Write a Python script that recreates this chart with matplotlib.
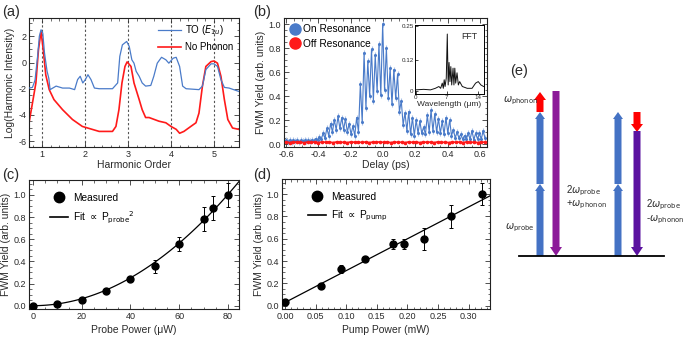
import numpy as np
import matplotlib
matplotlib.use('Agg')
import matplotlib.pyplot as plt
from matplotlib.lines import Line2D
from matplotlib.ticker import MultipleLocator, FormatStrFormatter, FixedLocator

plt.rcParams['font.family'] = ['Liberation Sans', 'DejaVu Sans']
plt.rcParams['mathtext.fontset'] = 'dejavusans'
plt.rcParams['axes.unicode_minus'] = False

# (a) harmonic spectra
to_order = [0.70, 0.78, 0.84, 0.90, 0.94, 0.98, 1.02, 1.06, 1.12, 1.16, 1.19, 1.33,
            1.48, 1.64, 1.76, 1.83, 1.89, 1.95, 2.01, 2.07, 2.14, 2.22, 2.33, 2.64,
            2.76, 2.81, 2.87, 2.97, 3.03, 3.09, 3.14, 3.19, 3.26, 3.33, 3.41, 3.53,
            3.60, 3.68, 3.78, 3.88, 3.95, 4.05, 4.12, 4.20, 4.27, 4.35, 4.65, 4.73,
            4.81, 4.93, 5.00, 5.08, 5.16, 5.24, 5.35, 5.57]
to_log = [-1.95, -1.90, -1.35, 0.47, 2.00, 2.50, 2.25, 0.73, -0.67, -1.20, -2.07, -1.80,
          -1.95, -1.95, -2.07, -1.30, -1.05, -1.56, -1.30, -0.93, -1.30, -1.95, -2.00, -2.00,
          -1.56, 0.47, 1.35, 1.61, 1.22, 0.21, -0.05, -0.67, -1.05, -1.56, -1.80, -1.75,
          -1.05, -0.05, 0.40, 0.21, -0.05, 0.33, 0.40, -0.30, -1.80, -2.00, -2.07, -1.80,
          -0.54, -0.10, -0.10, -0.30, -1.30, -1.90, -1.95, -2.20]
nophonon_order = [0.70, 0.78, 0.86, 0.92, 0.98, 1.03, 1.09, 1.17, 1.28, 1.48, 1.71, 1.94,
                  2.33, 2.64, 2.72, 2.79, 2.86, 2.93, 2.98, 3.07, 3.14, 3.26, 3.33, 3.41,
                  3.49, 3.72, 3.88, 4.00, 4.12, 4.20, 4.30, 4.46, 4.58, 4.65, 4.73, 4.81,
                  4.93, 5.00, 5.08, 5.16, 5.24, 5.32, 5.43, 5.57]
nophonon_log = [-4.62, -3.10, -1.56, 0.98, 2.38, 1.00, -0.95, -2.07, -2.83, -3.60, -4.35, -4.88,
                -5.26, -5.26, -4.88, -3.60, -1.56, -0.30, 0.05, -0.30, -1.56, -2.83, -3.60, -4.20,
                -4.20, -4.48, -4.60, -4.88, -5.10, -5.40, -5.26, -4.88, -4.60, -3.86, -1.80, -0.30,
                0.07, 0.12, -0.05, -1.05, -2.83, -4.35, -5.00, -5.10]
harmonics = [1, 2, 3, 4, 5]

# (b) FWM yield vs delay
delay = np.linspace(-0.6, 0.6305, 108)
on_res = [0.030, 0.020, 0.032, 0.020, 0.030, 0.022, 0.032, 0.020, 0.030, 0.022,
          0.030, 0.022, 0.032, 0.024, 0.035, 0.028, 0.045, 0.032, 0.060, 0.040,
          0.090, 0.050, 0.130, 0.070, 0.170, 0.100, 0.200, 0.120, 0.230, 0.130,
          0.220, 0.120, 0.210, 0.100, 0.170, 0.080, 0.150, 0.070, 0.220, 0.100,
          0.500, 0.180, 0.760, 0.300, 0.690, 0.400, 0.790, 0.360, 0.740, 0.440,
          0.830, 0.410, 1.000, 0.450, 0.800, 0.380, 0.630, 0.330, 0.620, 0.380,
          0.580, 0.270, 0.360, 0.160, 0.260, 0.110, 0.270, 0.080, 0.220, 0.070,
          0.200, 0.090, 0.190, 0.090, 0.140, 0.080, 0.240, 0.100, 0.280, 0.110,
          0.250, 0.100, 0.210, 0.090, 0.190, 0.080, 0.220, 0.090, 0.200, 0.070,
          0.120, 0.050, 0.100, 0.050, 0.080, 0.040, 0.070, 0.040, 0.090, 0.040,
          0.110, 0.035, 0.090, 0.040, 0.090, 0.040, 0.110, 0.050]
on_err = 0.025
off_delay = np.linspace(-0.6, 0.63, 56)
off_res = [0.016, 0.012, 0.018, 0.014, 0.015, 0.011, 0.017, 0.013, 0.016, 0.012,
           0.018, 0.014, 0.016, 0.012, 0.017, 0.013, 0.015, 0.012, 0.018, 0.014,
           0.016, 0.013, 0.017, 0.012, 0.016, 0.014, 0.018, 0.013, 0.016, 0.012,
           0.017, 0.014, 0.015, 0.012, 0.018, 0.013, 0.016, 0.012, 0.017, 0.014,
           0.016, 0.012, 0.018, 0.013, 0.015, 0.012, 0.017, 0.014, 0.016, 0.012,
           0.018, 0.013, 0.016, 0.012, 0.017, 0.014]
fft_wl = [0.0, 1.76, 3.3, 4.4, 5.2, 5.6, 5.96, 6.2, 6.4, 6.6, 6.87, 7.1, 7.3, 7.5,
          7.7, 7.9, 8.1, 8.4, 8.6, 8.8, 9.0, 9.3, 9.6, 9.9, 10.5, 11.6, 12.7, 13.5,
          14.1, 14.7, 15.3]
fft_amp = [0.004, 0.006, 0.004, 0.010, 0.017, 0.010, 0.030, 0.010, 0.043, 0.017, 0.050,
           0.220, 0.023, 0.110, 0.036, 0.094, 0.023, 0.088, 0.023, 0.088, 0.030, 0.070,
           0.023, 0.036, 0.017, 0.010, 0.010, 0.030, 0.036, 0.023, 0.017]

# (c) probe power dependence
probe_power = [0, 10, 20, 30, 40, 50, 60, 70, 74, 80]
probe_fwm = [0.0, 0.012, 0.05, 0.13, 0.245, 0.355, 0.555, 0.78, 0.885, 1.0]
probe_err = [0.012, 0.012, 0.015, 0.015, 0.025, 0.057, 0.065, 0.11, 0.11, 0.11]

# (d) pump power dependence
pump_power = [0.0, 0.058, 0.092, 0.13, 0.177, 0.195, 0.227, 0.272, 0.322]
pump_fwm = [0.03, 0.18, 0.33, 0.42, 0.55, 0.55, 0.60, 0.80, 1.0]
pump_err = [0.02, 0.015, 0.035, 0.015, 0.045, 0.045, 0.10, 0.10, 0.10]

BLUE = '#4a7bc9'
RED = '#ff1a1a'
TXT = '#2a2a2a'
W, H = 685, 338


def px_axes(fig, left, top, right, bottom):
    return fig.add_axes([left / W, 1 - bottom / H, (right - left) / W, (bottom - top) / H])


def style(ax, xminor, yminor, size=6.5):
    ax.tick_params(which='both', direction='in', top=True, right=True,
                   labelsize=size, labelcolor=TXT, color='#333', pad=2)
    ax.tick_params(which='major', length=3.5, width=0.6)
    ax.tick_params(which='minor', length=1.8, width=0.5)
    for s in ax.spines.values():
        s.set_linewidth(0.8)
        s.set_color('#222')
    if xminor:
        ax.xaxis.set_minor_locator(MultipleLocator(xminor))
    if yminor:
        ax.yaxis.set_minor_locator(MultipleLocator(yminor))


fig = plt.figure(figsize=(6.85, 3.38), dpi=100)

# ---- (a)
ax = px_axes(fig, 29, 18, 239, 147)
for h in harmonics:
    ax.axvline(h, color='#555', lw=0.8, ls=(0, (2, 2)), zorder=1)
ax.plot(to_order, to_log, color=BLUE, lw=0.9, label=r'TO ($\mathit{E}_{1u}$)', zorder=3)
ax.plot(nophonon_order, nophonon_log, color=RED, lw=1.2, label='No Phonon', zorder=2)
ax.set_xlim(0.7, 5.58)
ax.set_ylim(-6.45, 3.4)
ax.xaxis.set_major_locator(MultipleLocator(1))
ax.yaxis.set_major_locator(MultipleLocator(2))
style(ax, 0.2, 0.5)
ax.set_xlabel('Harmonic Order', fontsize=7.5, color=TXT, labelpad=1)
ax.set_ylabel('Log(Harmonic Intensity)', fontsize=7.5, color=TXT, labelpad=2)
ax.legend(loc='upper left', bbox_to_anchor=(0.615, 0.96), frameon=False, fontsize=7,
          handlelength=2.3, handletextpad=0.5, labelspacing=0.5, borderpad=0, borderaxespad=0)
fig.text(2 / W, 1 - 12 / H, '(a)', fontsize=10.5, va='center', color=TXT)

# ---- (b)
ax = px_axes(fig, 284, 18, 487, 147)
ax.errorbar(delay, on_res, yerr=on_err, fmt='-o', ms=1.2, lw=0.8, color=BLUE,
            ecolor='#a9c1e8', elinewidth=0.8, zorder=2)
ax.plot(off_delay, off_res, '-o', ms=1.6, lw=1.2, color=RED, zorder=3)
ax.set_xlim(-0.612, 0.643)
ax.set_ylim(-0.025, 1.05)
ax.xaxis.set_major_locator(MultipleLocator(0.2))
ax.yaxis.set_major_locator(MultipleLocator(0.2))
ax.xaxis.set_major_formatter(FormatStrFormatter('%.1f'))
ax.yaxis.set_major_formatter(FormatStrFormatter('%.1f'))
style(ax, 0.05, 0.05)
ax.set_xlabel('Delay (ps)', fontsize=7.5, color=TXT, labelpad=1)
ax.set_ylabel('FWM Yield (arb. units)', fontsize=7.5, color=TXT, labelpad=2)
hb = [Line2D([], [], marker='o', ls='', color=BLUE, ms=8),
      Line2D([], [], marker='o', ls='', color=RED, ms=8)]
ax.legend(hb, ['On Resonance', 'Off Resonance'], loc='upper left', bbox_to_anchor=(0.025, 0.95),
          frameon=False, fontsize=7.3, handletextpad=0.2, labelspacing=0.4, borderpad=0,
          borderaxespad=0, handlelength=1.2)
fig.text(253 / W, 1 - 12 / H, '(b)', fontsize=10.5, va='center', color=TXT)

# inset FFT
axi = px_axes(fig, 415, 25, 484, 94)
axi.plot(fft_wl, fft_amp, color='#111', lw=0.7)
axi.set_xlim(-0.2, 15.4)
axi.set_ylim(-0.012, 0.255)
axi.xaxis.set_major_locator(FixedLocator([0, 7, 14]))
axi.yaxis.set_major_locator(FixedLocator([0, 0.12, 0.25]))
axi.set_yticklabels(['0', '0.12', '0.25'])
axi.tick_params(which='both', direction='in', labelsize=4.5, labelcolor=TXT, length=2,
                width=0.5, pad=1)
for s in axi.spines.values():
    s.set_linewidth(0.7)
axi.set_xlabel('Wavelength (μm)', fontsize=6, color=TXT, labelpad=0.5)
axi.text(0.78, 0.8, 'FFT', transform=axi.transAxes, fontsize=6.3, ha='center', color=TXT)

# ---- (c)
ax = px_axes(fig, 29, 180, 239, 309)
pp = np.array(probe_power, dtype=float)
pf = np.array(probe_fwm)
coef = np.sum(pf * pp ** 2) / np.sum(pp ** 4)
xfit = np.linspace(0, 86, 120)
ax.plot(xfit, coef * xfit ** 2, color='k', lw=0.9, zorder=2)
ax.errorbar(probe_power, probe_fwm, yerr=probe_err, fmt='o', ms=5, color='k',
            elinewidth=0.7, capsize=1.5, capthick=0.7, zorder=3)
ax.set_xlim(-1.6, 84.5)
ax.set_ylim(-0.03, 1.135)
ax.xaxis.set_major_locator(MultipleLocator(20))
ax.yaxis.set_major_locator(MultipleLocator(0.2))
ax.yaxis.set_major_formatter(FormatStrFormatter('%.1f'))
style(ax, 5, 0.05)
ax.set_xlabel('Probe Power (μW)', fontsize=7.5, color=TXT, labelpad=3)
ax.set_ylabel('FWM Yield (arb. units)', fontsize=7.5, color=TXT, labelpad=2)
hc = [Line2D([], [], marker='o', ls='', color='k', ms=7.5),
      Line2D([], [], color='k', lw=1.2)]
ax.legend(hc, ['Measured', r'Fit $\propto$ P$_{\rm probe}$$^{2}$'], loc='upper left',
          bbox_to_anchor=(0.1, 0.9), frameon=False, fontsize=7.3, handletextpad=0.5,
          labelspacing=0.65, borderpad=0, borderaxespad=0, handlelength=1.8)
fig.text(2 / W, 1 - 175 / H, '(c)', fontsize=10.5, va='center', color=TXT)

# ---- (d)
ax = px_axes(fig, 282, 179, 490, 309)
slope, icpt = np.polyfit(pump_power, pump_fwm, 1)
xfit = np.linspace(0, 0.34, 50)
ax.plot(xfit, slope * xfit + icpt, color='k', lw=0.9, zorder=2)
ax.errorbar(pump_power, pump_fwm, yerr=pump_err, fmt='o', ms=5, color='k',
            elinewidth=0.7, capsize=1.5, capthick=0.7, zorder=3)
ax.set_xlim(-0.005, 0.335)
ax.set_ylim(-0.03, 1.135)
ax.xaxis.set_major_locator(MultipleLocator(0.05))
ax.yaxis.set_major_locator(MultipleLocator(0.2))
ax.xaxis.set_major_formatter(FormatStrFormatter('%.2f'))
ax.yaxis.set_major_formatter(FormatStrFormatter('%.1f'))
style(ax, 0.01, 0.05)
ax.set_xlabel('Pump Power (mW)', fontsize=7.5, color=TXT, labelpad=3)
ax.set_ylabel('FWM Yield (arb. units)', fontsize=7.5, color=TXT, labelpad=2)
ax.legend(hc, ['Measured', r'Fit $\propto$ P$_{\rm pump}$'], loc='upper left',
          bbox_to_anchor=(0.125, 0.9), frameon=False, fontsize=7.3, handletextpad=0.5,
          labelspacing=0.65, borderpad=0, borderaxespad=0, handlelength=1.8)
fig.text(253 / W, 1 - 175 / H, '(d)', fontsize=10.5, va='center', color=TXT)

# ---- (e) energy diagram, drawn in pixel units
ax = px_axes(fig, 470, 0, 685, 338)
ax.set_xlim(470, 685)
ax.set_ylim(338, 0)
ax.axis('off')
base, probe_top, phonon = 256, 112, 20
step = (base - probe_top) / 2
ax.plot([519, 664], [base, base], color='k', lw=1.3)


def arrow(x, y0, y1, c, w=7, hw=11, hl=8):
    ax.arrow(x, y0, 0, y1 - y0, width=w, head_width=hw, head_length=hl,
             length_includes_head=True, color=c, lw=0)


for x in (540, 618):
    arrow(x, base, base - step, '#4472c4', hw=10, hl=7)
    arrow(x, base - step, probe_top, '#4472c4', hw=10, hl=7)
arrow(540, probe_top, probe_top - phonon, '#ff0000', w=7, hw=12, hl=8)
arrow(556, probe_top - phonon - 1, base, '#8c1a99', w=7, hw=12, hl=9)
arrow(637, probe_top, probe_top + phonon, '#ff0000', w=7, hw=12, hl=8)
arrow(637, probe_top + phonon - 1, base, '#5b12a0', w=7, hw=12, hl=9)
ax.text(510, 71, '(e)', fontsize=10.5, va='center', color=TXT)
ax.text(503, 101, r'$\omega_{\rm phonon}$', fontsize=7, va='center', color=TXT)
ax.text(505, 228, r'$\omega_{\rm probe}$', fontsize=7, va='center', color=TXT)
ax.text(566, 191, r'2$\omega_{\rm probe}$', fontsize=7, va='center', color=TXT)
ax.text(566, 205, r'+$\omega_{\rm phonon}$', fontsize=7, va='center', color=TXT)
ax.text(646, 205, r'2$\omega_{\rm probe}$', fontsize=7, va='center', color=TXT)
ax.text(646, 220, r'-$\omega_{\rm phonon}$', fontsize=7, va='center', color=TXT)

fig.savefig('out.png', dpi=100)
